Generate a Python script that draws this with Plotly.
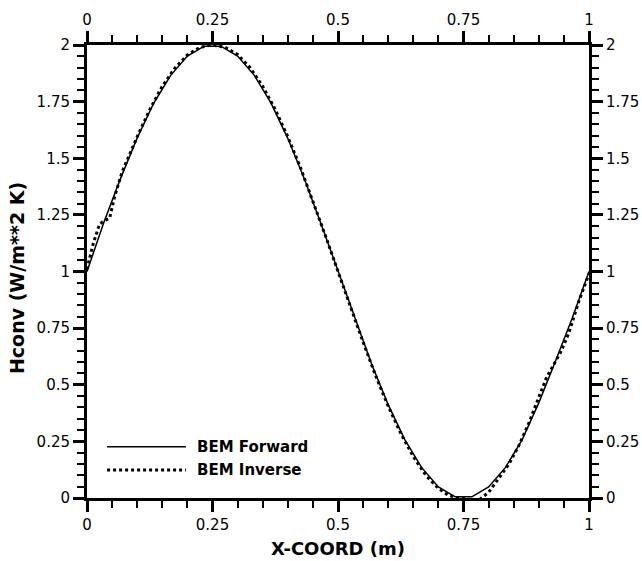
import plotly.graph_objects as go

# ---- data ----
x_forward = [0.0, 0.0333, 0.0667, 0.1, 0.1333, 0.1667, 0.2, 0.2333, 0.2667, 0.3,
             0.3333, 0.3667, 0.4, 0.4333, 0.4667, 0.5, 0.5333, 0.5667, 0.6, 0.6333,
             0.6667, 0.7, 0.7333, 0.7667, 0.8, 0.8333, 0.8667, 0.9, 0.9333, 0.9667, 1.0]
h_forward = [1.000, 1.215, 1.410, 1.590, 1.745, 1.866, 1.951, 1.995, 1.995, 1.951,
             1.866, 1.743, 1.588, 1.407, 1.208, 1.000, 0.792, 0.593, 0.412, 0.257,
             0.134, 0.049, 0.005, 0.005, 0.049, 0.134, 0.257, 0.420, 0.605, 0.795, 1.000]

x_inverse = [0.0, 0.012, 0.025, 0.035, 0.045, 0.055, 0.07, 0.1, 0.125, 0.15,
             0.175, 0.2, 0.225, 0.25, 0.275, 0.3, 0.325, 0.35, 0.375, 0.4,
             0.425, 0.45, 0.475, 0.5, 0.525, 0.55, 0.575, 0.6, 0.625, 0.65,
             0.675, 0.7, 0.72, 0.74, 0.76, 0.78, 0.8, 0.82, 0.84, 0.86,
             0.88, 0.9, 0.915, 0.93, 0.945, 0.96, 0.98, 1.0]
h_inverse = [1.01, 1.12, 1.21, 1.225, 1.235, 1.33, 1.44, 1.595, 1.715, 1.818,
             1.898, 1.956, 1.99, 2.0, 1.99, 1.958, 1.90, 1.818, 1.715, 1.595,
             1.46, 1.312, 1.158, 1.0, 0.842, 0.688, 0.54, 0.405, 0.285, 0.183,
             0.10, 0.042, 0.012, 0.0, -0.005, -0.01, 0.025, 0.085, 0.148, 0.23,
             0.33, 0.445, 0.53, 0.59, 0.65, 0.73, 0.87, 0.99]

x_ticks = [0, 0.25, 0.5, 0.75, 1]
x_ticklabels = ["0", "0.25", "0.5", "0.75", "1"]
y_ticks = [0, 0.25, 0.5, 0.75, 1, 1.25, 1.5, 1.75, 2]
y_ticklabels = ["0", "0.25", "0.5", "0.75", "1", "1.25", "1.5", "1.75", "2"]

legend_names = ["BEM Forward", "BEM Inverse"]
x_title = "X-COORD (m)"
y_title = "Hconv (W/m**2 K)"

# ---- figure ----
fig = go.Figure()
fig.add_trace(go.Scatter(x=x_forward, y=h_forward, mode="lines",
                         line=dict(color="black", width=1.5),
                         name=legend_names[0], showlegend=False,
                         xaxis="x", yaxis="y"))
fig.add_trace(go.Scatter(x=x_inverse, y=h_inverse, mode="lines",
                         line=dict(color="black", width=3, dash="dot"),
                         name=legend_names[1], showlegend=False,
                         xaxis="x2", yaxis="y2"))

tickfont = dict(family="DejaVu Sans", size=15, color="black")
common = dict(showline=True, linewidth=3, linecolor="black", ticks="outside",
              ticklen=11, tickwidth=2.5, tickcolor="black", showgrid=False,
              zeroline=False, tickfont=tickfont, automargin=False,
              ticklabeloverflow="allow",
              minor=dict(ticks="outside", ticklen=7, tickwidth=1.5,
                         tickcolor="black", showgrid=False))

fig.update_layout(
    width=642, height=561,
    showlegend=False,
    margin=dict(l=87, r=53, t=45, b=63, autoexpand=False),
    paper_bgcolor="white", plot_bgcolor="white",
    xaxis=dict(range=[0, 1], tickvals=x_ticks, ticktext=x_ticklabels,
               minor_dtick=0.05, side="bottom", **common),
    xaxis2=dict(range=[0, 1], tickvals=x_ticks, ticktext=x_ticklabels,
                minor_dtick=0.05, side="top", overlaying="x", **common),
    yaxis=dict(range=[0, 2], tickvals=y_ticks, ticktext=y_ticklabels,
               minor_dtick=0.05, side="left", **common),
    yaxis2=dict(range=[0, 2], tickvals=y_ticks, ticktext=y_ticklabels,
                minor_dtick=0.05, side="right", overlaying="y", **common),
)

# axis titles
fig.add_annotation(text=x_title, xref="paper", yref="paper", x=0.5, y=-0.112,
                   xanchor="center", yanchor="middle", showarrow=False,
                   font=dict(family="DejaVu Sans", size=18, color="black", weight="bold"))
fig.add_annotation(text=y_title, xref="paper", yref="paper", x=-0.139, y=0.486,
                   xanchor="center", yanchor="middle", showarrow=False, textangle=-90,
                   font=dict(family="DejaVu Sans", size=19, color="black", weight="bold"))

# legend (drawn manually to match the long sample lines)
leg_y = [0.113, 0.062]
leg_dash = ["solid", "dot"]
leg_w = [1.5, 3]
for name, yy, dsh, w in zip(legend_names, leg_y, leg_dash, leg_w):
    fig.add_shape(type="line", xref="paper", yref="paper", x0=0.040, x1=0.197,
                  y0=yy, y1=yy, line=dict(color="black", width=w, dash=dsh))
    fig.add_annotation(text=name, xref="paper", yref="paper", x=0.215, y=yy,
                       xanchor="left", yanchor="middle", showarrow=False,
                       font=dict(family="DejaVu Sans", size=15, color="black", weight="bold"))

fig.write_html("out.html")
